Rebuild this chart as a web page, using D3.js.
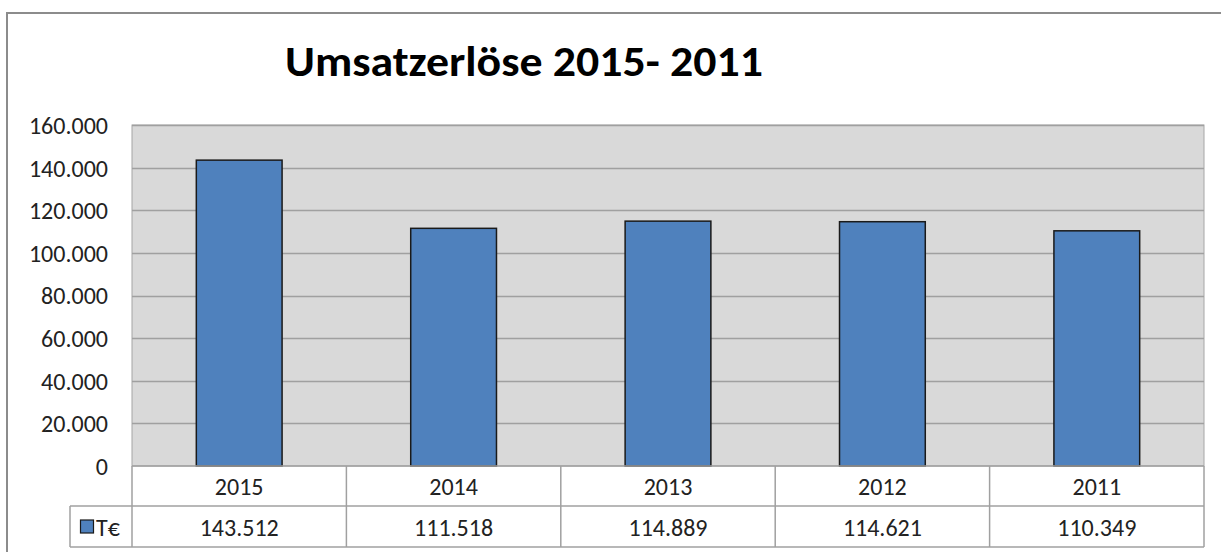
<!DOCTYPE html>
<html><head><meta charset="utf-8">
<script src="https://cdn.jsdelivr.net/npm/d3@7"></script>
<style>body{margin:0;background:#fff;} svg{display:block;}</style>
</head><body>
<script>
const categories = ["2015","2014","2013","2012","2011"];
const values = [143512, 111518, 114889, 114621, 110349];
const valueLabels = ["143.512","111.518","114.889","114.621","110.349"];
const yTicks = [0,20000,40000,60000,80000,100000,120000,140000,160000];
const seriesName = "T€";
const title = "Umsatzerlöse 2015- 2011";

const W=1221,H=552;
const svg=d3.select("body").append("svg").attr("width",W).attr("height",H);
const font="Calibri, Carlito, Lato, 'Liberation Sans', sans-serif";
const fs=24;

// outer frame
svg.append("rect").attr("x",7).attr("y",13).attr("width",1230).attr("height",560)
  .attr("fill","#fff").attr("stroke","#8c8c8c").attr("stroke-width",2);

const L=132,R=1204,T=125,B=466;
const x=d3.scaleBand().domain(categories).range([L,R]).paddingInner(0).paddingOuter(0);
const y=d3.scaleLinear().domain([0,160000]).range([B,T]);

// plot bg
svg.append("rect").attr("x",L).attr("y",T).attr("width",R-L).attr("height",B-T)
  .attr("fill","#d9d9d9").attr("stroke","#a6a6a6").attr("stroke-width",1);

// grid
svg.append("g").selectAll("line").data(yTicks.filter(d=>d>0)).join("line")
  .attr("x1",L).attr("x2",R).attr("y1",d=>Math.round(y(d))+0.5).attr("y2",d=>Math.round(y(d))+0.5)
  .attr("stroke","#a0a0a0").attr("stroke-width",1.5);

// bars
const bw=x.bandwidth()*0.4;
svg.append("g").selectAll("rect").data(values).join("rect")
  .attr("x",(d,i)=>x(categories[i])+x.bandwidth()/2-bw/2)
  .attr("y",d=>y(d))
  .attr("width",bw).attr("height",d=>B-y(d))
  .attr("fill","#4f81bd").attr("stroke","#1a1a1a").attr("stroke-width",1.5);

// y axis
const yAxis=d3.axisLeft(y).tickValues(yTicks).tickSize(0).tickPadding(0)
  .tickFormat(d=>d===0?"0":d3.format(",")(d).replace(/,/g,"."));
const ga=svg.append("g").attr("transform",`translate(108,0)`).call(yAxis);
ga.select(".domain").remove();
ga.selectAll("text").attr("font-family",font).attr("font-size",fs).attr("fill","#222").attr("dy","0.35em");

// data table
const r1=506,r2=547;
const tbl=svg.append("g").attr("fill","none").attr("stroke","#a0a0a0").attr("stroke-width",1.5);
tbl.append("line").attr("x1",L).attr("x2",R).attr("y1",B).attr("y2",B);
tbl.append("line").attr("x1",70).attr("x2",R).attr("y1",r1).attr("y2",r1);
tbl.append("line").attr("x1",70).attr("x2",R).attr("y1",r2).attr("y2",r2);
tbl.append("line").attr("x1",70).attr("x2",70).attr("y1",r1).attr("y2",r2);
tbl.selectAll("line.v").data(d3.range(categories.length+1)).join("line").attr("class","v")
  .attr("x1",i=>i<categories.length?x(categories[i]):R).attr("x2",i=>i<categories.length?x(categories[i]):R)
  .attr("y1",B).attr("y2",r2);

svg.append("g").selectAll("text").data(categories).join("text")
  .attr("x",d=>x(d)+x.bandwidth()/2).attr("y",(B+r1)/2+1).attr("dy","0.35em")
  .attr("text-anchor","middle").attr("font-family",font).attr("font-size",fs).attr("fill","#222").text(d=>d);
svg.append("g").selectAll("text").data(valueLabels).join("text")
  .attr("x",(d,i)=>x(categories[i])+x.bandwidth()/2).attr("y",(r1+r2)/2+1).attr("dy","0.35em")
  .attr("text-anchor","middle").attr("font-family",font).attr("font-size",fs).attr("fill","#222").text(d=>d);

// legend key
svg.append("rect").attr("x",80.5).attr("y",520).attr("width",13).attr("height",13)
  .attr("fill","#4f81bd").attr("stroke","#1a1a1a").attr("stroke-width",1.2);
svg.append("text").attr("x",96).attr("y",(r1+r2)/2+1).attr("dy","0.35em")
  .attr("font-family",font).attr("font-size",fs).attr("fill","#222").text(seriesName);

// title
svg.append("text").attr("x",524).attr("y",76).attr("text-anchor","middle")
  .attr("font-family",font).attr("font-weight","bold").attr("font-size",42).attr("fill","#000")
  .attr("textLength",478).attr("lengthAdjust","spacingAndGlyphs").text(title);
</script>
</body></html>
